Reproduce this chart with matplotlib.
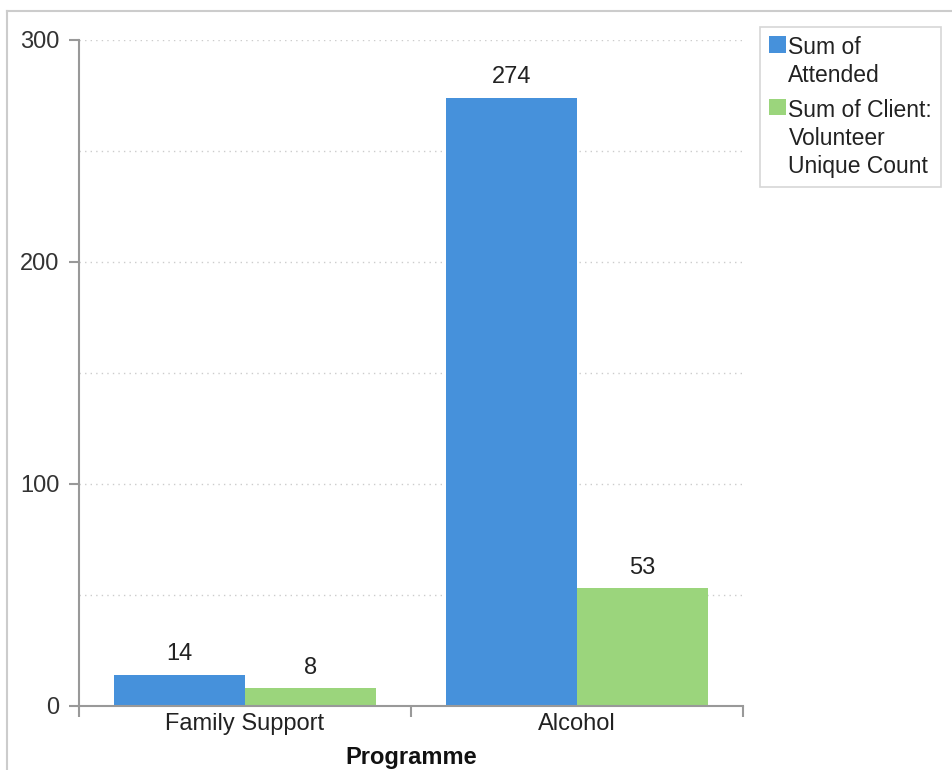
import matplotlib
matplotlib.use("Agg")
import matplotlib.pyplot as plt
from matplotlib.lines import Line2D
import numpy as np

plt.rcParams['font.family'] = ['Liberation Sans', 'DejaVu Sans']

categories = ["Family Support", "Alcohol"]
series_names = ["Sum of\nAttended", "Sum of Client:\nVolunteer\nUnique Count"]
attended = [14, 274]
volunteer_unique = [8, 53]
y_ticks = [0, 100, 200, 300]

colors = ["#4691db", "#9bd57c"]
FS = 17

fig = plt.figure(figsize=(9.53, 7.7), dpi=100)
ax = fig.add_axes([79/953, 1 - 706/770, (743 - 79)/953, (706 - 40)/770])

x = np.arange(len(categories))
w = 0.395
b1 = ax.bar(x - w/2, attended, w, color=colors[0], label=series_names[0])
b2 = ax.bar(x + w/2, volunteer_unique, w, color=colors[1], label=series_names[1])
for bars in (b1, b2):
    ax.bar_label(bars, padding=7, fontsize=FS, color="#222222")

ax.set_xlim(-0.5, len(categories) - 0.5)
ax.set_ylim(0, 300)
ax.set_yticks(y_ticks)
ax.set_yticklabels([str(v) for v in y_ticks], fontsize=FS, color="#333333")
ax.set_yticks(np.arange(0, 301, 50), minor=True)
ax.yaxis.grid(True, which='both', linestyle=(0, (1, 3)), color="#cccccc", linewidth=1)
ax.set_axisbelow(True)
ax.tick_params(axis='y', which='minor', length=0)
ax.tick_params(axis='y', which='major', length=7, color="#999999", width=1.5, pad=7)

ax.set_xticks(x)
ax.set_xticklabels(categories, fontsize=FS, color="#222222")
ax.tick_params(axis='x', which='major', length=0, pad=5)
ax.set_xticks(np.arange(-0.5, len(categories), 1.0), minor=True)
ax.tick_params(axis='x', which='minor', length=8, color="#999999", width=1.5)

for s in ("top", "right"):
    ax.spines[s].set_visible(False)
for s in ("left", "bottom"):
    ax.spines[s].set_color("#999999")
    ax.spines[s].set_linewidth(1.5)

ax.set_xlabel("Programme", fontsize=FS, fontweight="bold", color="#111111", labelpad=8)

leg = fig.legend(handles=[b1, b2], labels=series_names, loc="upper left",
                 bbox_to_anchor=(760/953, 1 - 27/770), fontsize=16.5,
                 frameon=True, fancybox=False, edgecolor="#cccccc",
                 handlelength=0.72, handleheight=0.72, handletextpad=0.12,
                 labelspacing=0.5, borderpad=0.4, borderaxespad=0)
leg.get_frame().set_linewidth(1.2)
for t in leg.get_texts():
    t.set_color("#222222")
    t.set_linespacing(1.28)
try:
    for col in leg._legend_handle_box.get_children():
        for item in col.get_children():
            item.align = "top"
except Exception:
    pass

# outer border lines (top and left)
fig.add_artist(Line2D([7/953, 1], [1 - 11/770, 1 - 11/770], color="#cccccc", linewidth=1.5, transform=fig.transFigure))
fig.add_artist(Line2D([7/953, 7/953], [0, 1 - 11/770], color="#cccccc", linewidth=1.5, transform=fig.transFigure))

fig.savefig("out.png", dpi=100)
